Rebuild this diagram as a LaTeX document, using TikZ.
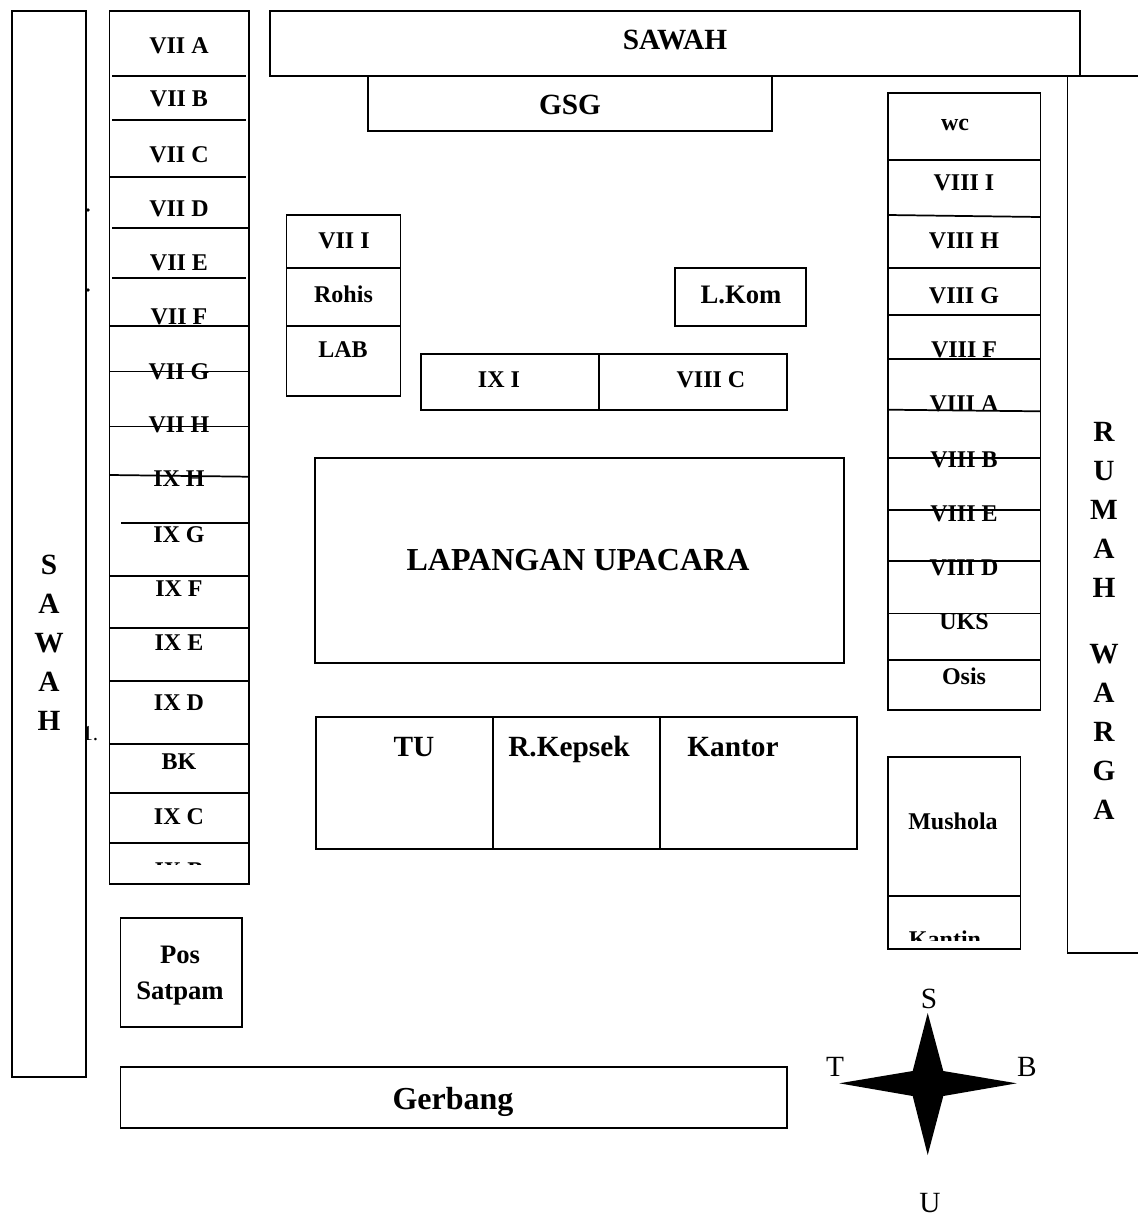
\documentclass[tikz,border=0pt]{standalone}
\usepackage{fontspec}
\setmainfont{Liberation Serif}
\usetikzlibrary{positioning}

\begin{document}
\begin{tikzpicture}[
    x=0.75pt, y=-0.75pt,
    % Plain styles for the plan
    wall/.style={draw=black, line width=1.4pt, fill=none},
    divider/.style={draw=black, line width=1.3pt},
    room_small/.style={anchor=base, inner sep=0pt, font=\fontsize{18}{20}\selectfont\bfseries},
    room_mid/.style={anchor=base, inner sep=0pt, font=\fontsize{20}{24}\selectfont\bfseries},
    room_big/.style={anchor=base, inner sep=0pt, font=\fontsize{22}{26}\selectfont\bfseries},
    field_label/.style={anchor=base, inner sep=0pt, font=\fontsize{24}{28}\selectfont\bfseries},
    side_label/.style={anchor=north, inner sep=0pt, align=center, font=\fontsize{22}{29.2}\selectfont\bfseries},
    compass_label/.style={anchor=base, inner sep=0pt, font=\fontsize{22}{26}\selectfont}
]
\useasboundingbox (0,0) rectangle (1138,1215);

% Fields on the outside
\draw[wall] (12,11) rectangle (86,1077);
\draw[wall] (270,11) -- (1080,11) -- (1080,76) -- (270,76) -- cycle;
\draw[divider] (1080,76) -- (1138,76);
\draw[wall] (1138,953) -- (1067.5,953) -- (1067.5,76);

\node[side_label] (sawah_left) at (49,555) {S\\A\\W\\A\\H};
\node[room_big] (sawah_top) at (675,49) {SAWAH};
\node[side_label] (rumah_warga) at (1104,422) {R\\U\\M\\A\\H\\[20.5pt]W\\A\\R\\G\\A};

% Stray marks next to the left field
\fill (88,210) circle (1.8);
\fill (88,290) circle (1.8);
\begin{scope}
    \clip (87,720) rectangle (105,745);
    \node[anchor=base west, inner sep=0pt, font=\fontsize{16}{18}\selectfont] (list_mark) at (82,740) {1.};
\end{scope}

% Left row of classes
\draw[wall] (109.5,11) rectangle (249,884);
\draw[divider] (112,76) -- (246,76);
\draw[divider] (112,120) -- (246,120);
\draw[divider] (110,177) -- (246,177);
\draw[divider] (112,228) -- (248,228);
\draw[divider] (112,278) -- (246,278);
\draw[divider] (110,326) -- (248,326);
\draw[divider] (110,371.5) -- (248,371.5);
\draw[divider] (110,426.5) -- (248,426.5);
\draw[divider] (110,475) -- (248,476.7);
\draw[divider] (121,523) -- (248,523);
\draw[divider] (110,575.7) -- (248,575.7);
\draw[divider] (110,628) -- (248,628);
\draw[divider] (110,681) -- (248,681);
\draw[divider] (110,744) -- (248,744);
\draw[divider] (110,793) -- (248,793);
\draw[divider] (110,843) -- (248,843);

\node[room_small] (vii_a) at (179,53) {VII A};
\node[room_small] (vii_b) at (179,106.7) {VII B};
\node[room_small] (vii_c) at (179,162.7) {VII C};
\node[room_small] (vii_d) at (179,216) {VII D};
\node[room_small] (vii_e) at (179,270) {VII E};
\node[room_small] (vii_f) at (179,324) {VII F};
\node[room_small] (vii_g) at (179,379) {VII G};
\node[room_small] (vii_h) at (179,432.7) {VII H};
\node[room_small] (ix_h) at (179,486.7) {IX H};
\node[room_small] (ix_g) at (179,542) {IX G};
\node[room_small] (ix_f) at (179,596) {IX F};
\node[room_small] (ix_e) at (179,650) {IX E};
\node[room_small] (ix_d) at (179,710) {IX D};
\node[room_small] (bk) at (179,769) {BK};
\node[room_small] (ix_c) at (179,824) {IX C};
\begin{scope}
    \clip (112,850) rectangle (246,864.5);
    \node[room_small] (ix_b) at (179,878) {IX B};
\end{scope}

% Buildings in the middle
\draw[wall] (368,76) rectangle (772,131);
\node[room_big] (gsg) at (570,114) {GSG};

\draw[wall] (286.5,215) rectangle (400.5,396);
\draw[divider] (286.5,268) -- (400.5,268);
\draw[divider] (286.5,326) -- (400.5,326);
\node[room_small] (vii_i) at (344,248) {VII I};
\node[room_small] (rohis) at (343.5,302) {Rohis};
\node[room_small] (lab) at (343,357) {LAB};

\draw[wall] (675,268) rectangle (806,326);
\node[room_mid] (lab_kom) at (741,303) {L.Kom};

\draw[wall] (421,354) rectangle (787,410);
\draw[divider] (599,354) -- (599,410);
\node[room_small] (ix_i) at (499,387) {IX I};
\node[room_small] (viii_c) at (711,387) {VIII C};

\draw[wall] (315,458) rectangle (844,663);
\node[field_label] (lapangan) at (578,570) {LAPANGAN UPACARA};

\draw[wall] (316,717) rectangle (857,849);
\draw[divider] (493,717) -- (493,849);
\draw[divider] (660,717) -- (660,849);
\node[room_big] (tu) at (414,756) {TU};
\node[room_big] (kepsek) at (569,756) {R.Kepsek};
\node[room_big] (kantor) at (733,756) {Kantor};

% Right row of classes
\draw[wall] (888,93) rectangle (1040.5,710);
\draw[divider] (888,159.7) -- (1040.5,159.7);
\draw[divider] (888,215) -- (1040.5,217);
\draw[divider] (888,267.7) -- (1040.5,267.7);
\draw[divider] (888,314.7) -- (1040.5,314.7);
\draw[divider] (888,359) -- (1040.5,359);
\draw[divider] (888,409.7) -- (1040.5,411.3);
\draw[divider] (888,457.7) -- (1040.5,457.7);
\draw[divider] (888,510.3) -- (1040.5,510.3);
\draw[divider] (888,560.7) -- (1040.5,560.7);
\draw[divider] (888,613.4) -- (1040.5,613.4);
\draw[divider] (888,660) -- (1040.5,660);

\node[room_small] (wc) at (955,130.7) {wc};
\node[room_small] (viii_i) at (964,190.7) {VIII I};
\node[room_small] (viii_h) at (964,248.7) {VIII H};
\node[room_small] (viii_g) at (964,303.7) {VIII G};
\node[room_small] (viii_f) at (964,357.7) {VIII F};
\node[room_small] (viii_a) at (964,411) {VIII A};
\node[room_small] (viii_b) at (964,467) {VIII B};
\node[room_small] (viii_e) at (964,521) {VIII E};
\node[room_small] (viii_d) at (964,575) {VIII D};
\node[room_small] (uks) at (964,629) {UKS};
\node[room_small] (osis) at (964,684) {Osis};

% Mushola and Kantin
\draw[wall] (888,757) rectangle (1020.5,949);
\draw[divider] (888,896) -- (1020.5,896);
\node[room_small] (mushola) at (953,829) {Mushola};
\begin{scope}
    \clip (890,900) rectangle (1018,940.5);
    \node[room_small] (kantin) at (945,947.5) {Kantin};
\end{scope}

% Gate side
\draw[wall] (120.5,918) rectangle (242,1027);
\node[room_mid] (pos) at (180,963) {Pos};
\node[room_mid] (satpam) at (180,999) {Satpam};

\draw[wall] (120.5,1067) rectangle (787,1128);
\node[anchor=base, inner sep=0pt, font=\fontsize{24}{28}\selectfont\bfseries] (gerbang) at (453,1109) {Gerbang};

% Compass
\fill[black] (927.7,1013) -- (943.3,1071) -- (1016.7,1083.3) -- (943.3,1096) -- (927.7,1155)
    -- (912.7,1096) -- (839.3,1083.3) -- (912.7,1071) -- cycle;
\node[compass_label] (south) at (929,1008) {S};
\node[compass_label] (east) at (835,1076) {T};
\node[compass_label] (west) at (1027,1076) {B};
\node[compass_label] (north) at (930,1212) {U};

\end{tikzpicture}
\end{document}
